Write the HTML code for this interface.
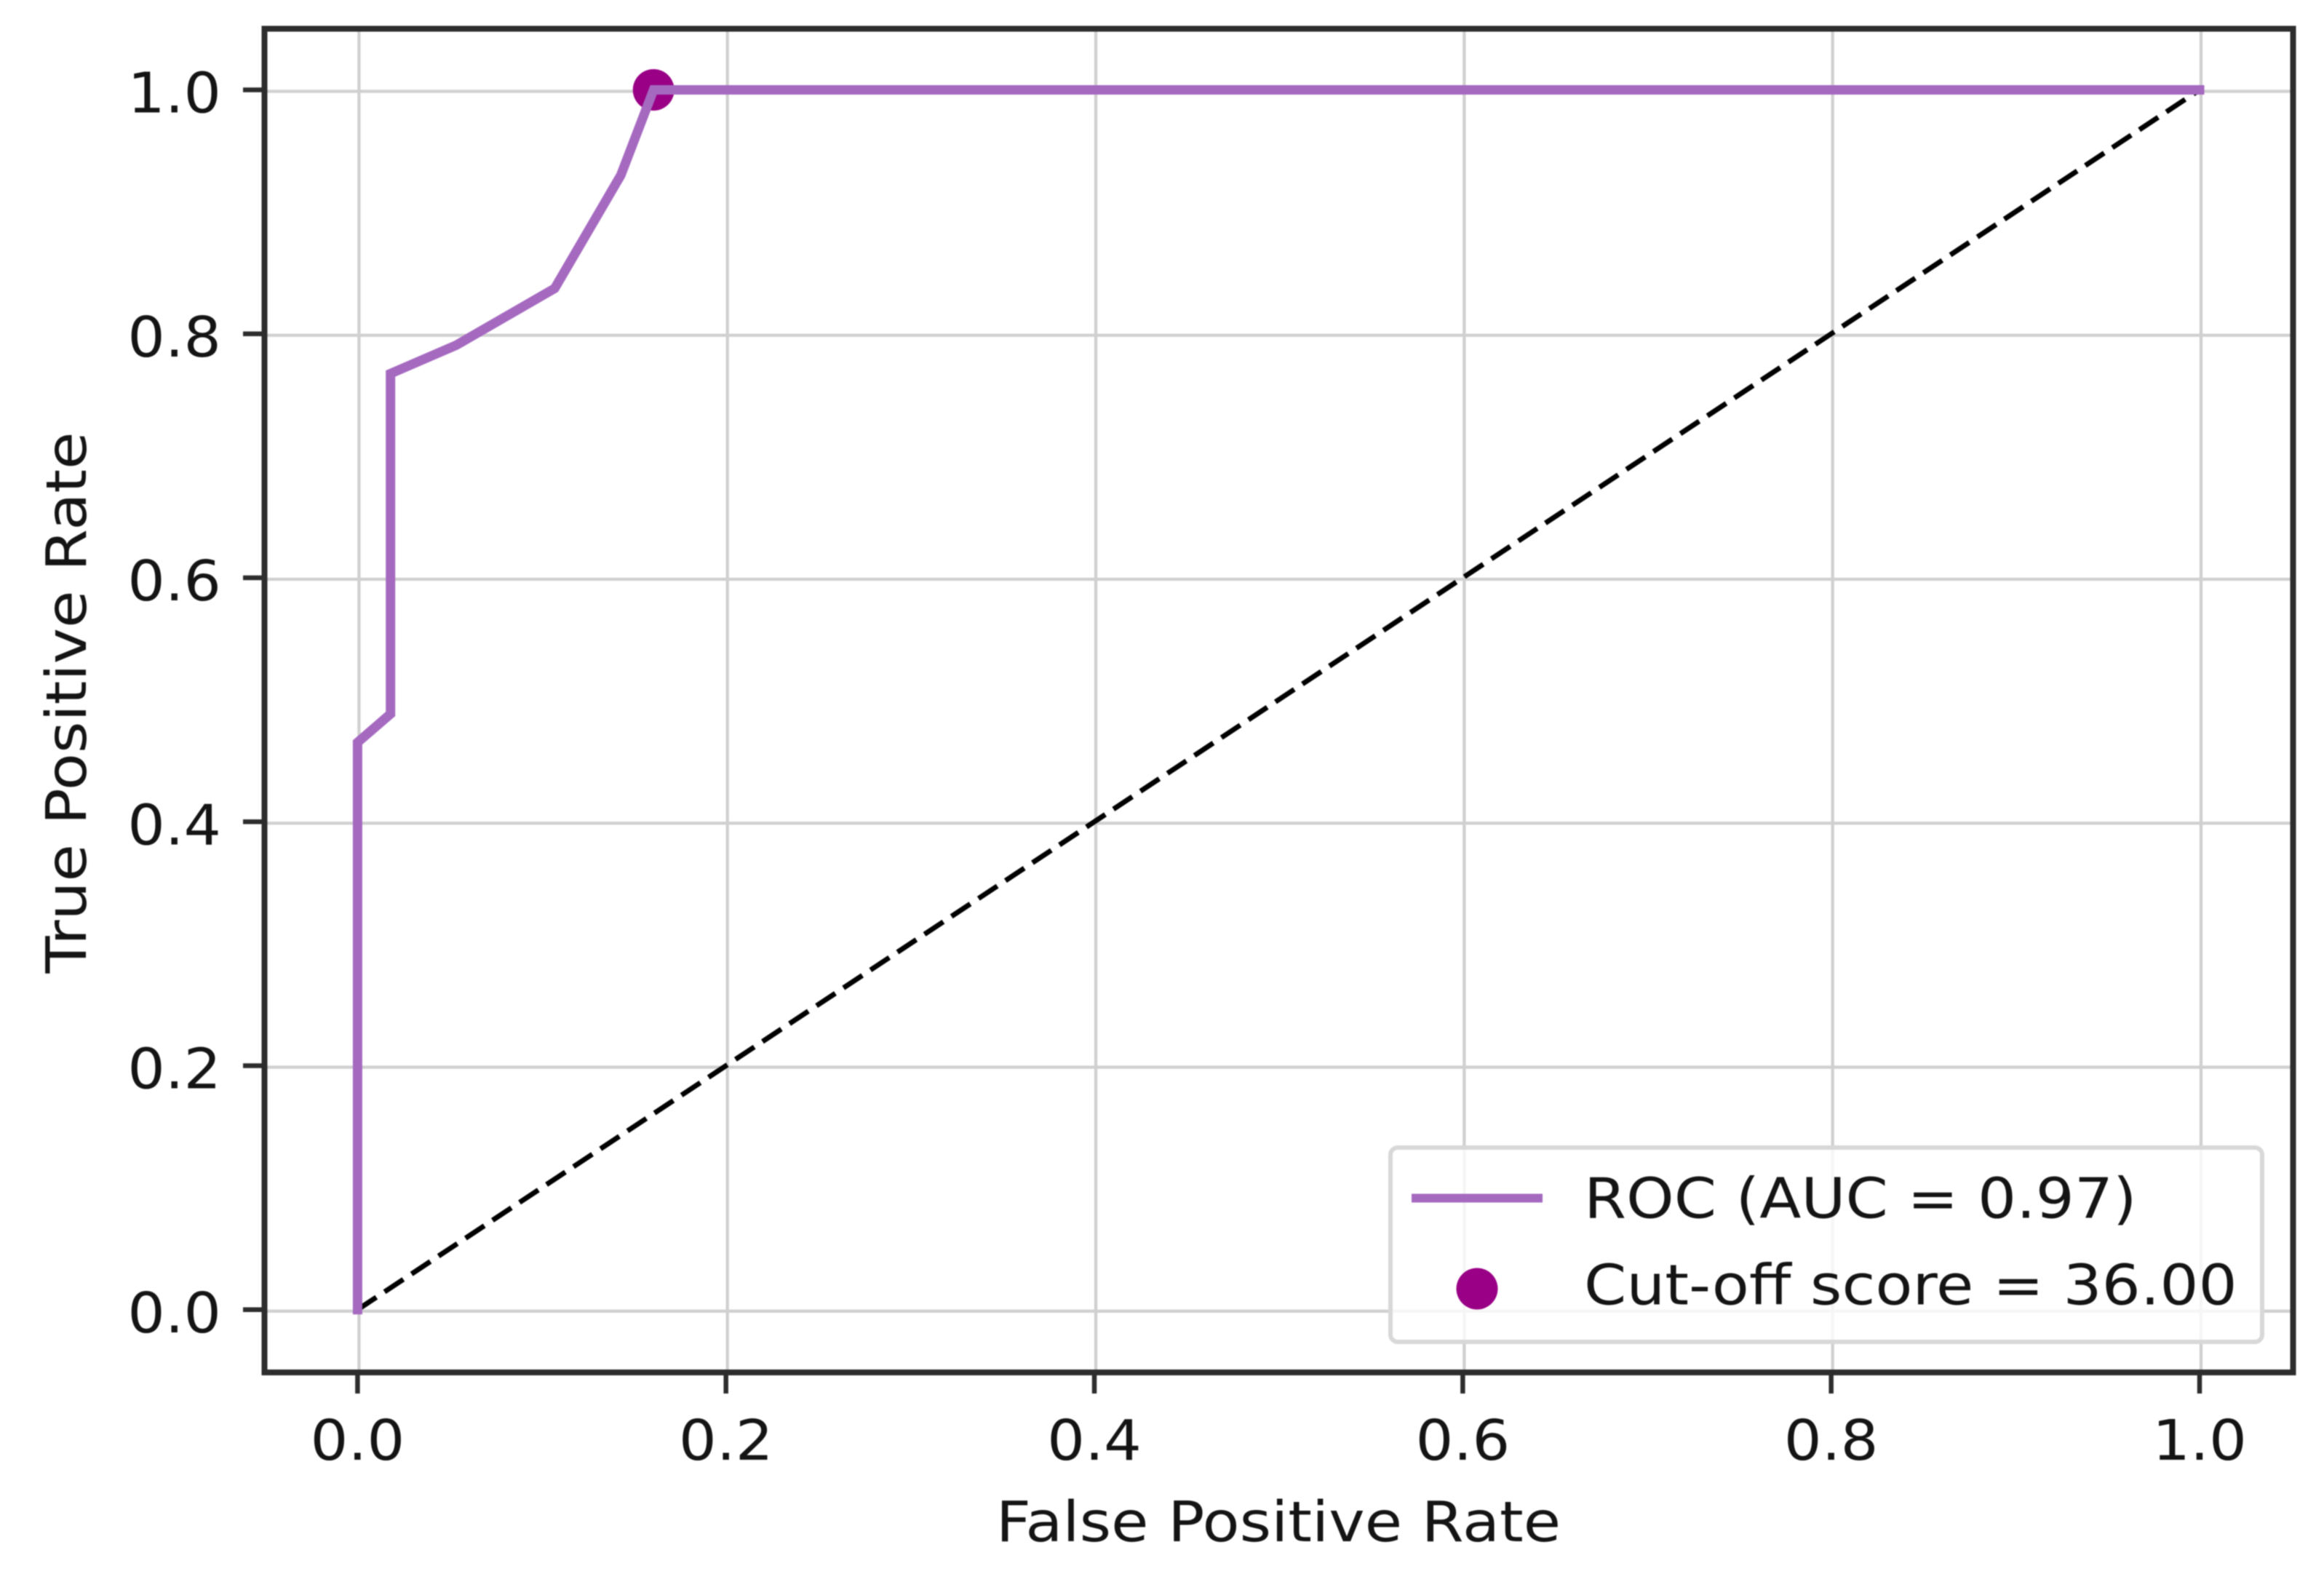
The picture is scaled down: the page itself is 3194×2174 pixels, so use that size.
<!DOCTYPE html>
<html>
<head>
<meta charset="utf-8">
<title>ROC curve</title>
<style>
html,body{margin:0;padding:0;background:#fff;width:3194px;height:2174px;overflow:hidden}
svg{display:block;filter:blur(0.8px)}
text{font-family:"DejaVu Sans","Liberation Sans",sans-serif;fill:#141414;font-size:77px}
</style>
</head>
<body>
<svg id="chart" xmlns="http://www.w3.org/2000/svg" width="3194" height="2174" viewBox="0 0 3194 2174">
  <rect x="0" y="0" width="3194" height="2174" fill="#ffffff"/>
  <g id="grid"></g>
  <g id="series"></g>
  <rect x="363.5" y="39.5" width="2788" height="1846.5" fill="none" stroke="#2d2d2d" stroke-width="8"/>
  <g id="ticks"></g>
  <text text-anchor="middle" transform="translate(1757 2118) scale(1.085 1)">False Positive Rate</text>
  <text text-anchor="middle" transform="translate(118 965.5) rotate(-90) scale(1.085 1)">True Positive Rate</text>
  <g>
    <rect x="1911" y="1577" width="1198" height="267" rx="10" ry="10" fill="#ffffff" fill-opacity="0.8" stroke="#d8d8d8" stroke-width="6"/>
    <line x1="1940" y1="1646.5" x2="2120" y2="1646.5" stroke="#a569c0" stroke-width="12"/>
    <circle cx="2030" cy="1771" r="28.5" fill="#990085"/>
    <text transform="translate(2177 1673.5) scale(1.085 1)">ROC (AUC = 0.97)</text>
    <text transform="translate(2177 1792.5) scale(1.085 1)">Cut-off score = 36.00</text>
  </g>
</svg>
<script>
var fprValues = [0, 0, 0.0179, 0.0179, 0.0536, 0.107, 0.1429, 0.1607, 1];
var tprValues = [0, 0.4651, 0.4884, 0.7674, 0.7907, 0.8372, 0.93, 1, 1];
var chanceX = [0, 1];
var chanceY = [0, 1];
var cutoffFpr = [0.1607];
var cutoffTpr = [1];
var xTickValues = [0, 0.2, 0.4, 0.6, 0.8, 1];
var yTickValues = [0, 0.2, 0.4, 0.6, 0.8, 1];
var xTickLabels = ['0.0', '0.2', '0.4', '0.6', '0.8', '1.0'];
var yTickLabels = ['0.0', '0.2', '0.4', '0.6', '0.8', '1.0'];

var NS = 'http://www.w3.org/2000/svg';
function xScale(v) { return 491.4 + v * 2531.6; }
function yScale(v) { return 1799.8 - v * 1676.3; }
function make(tag, parent, attrs) {
  var el = document.createElementNS(NS, tag);
  for (var k in attrs) { el.setAttribute(k, attrs[k]); }
  parent.appendChild(el);
  return el;
}
function pathFrom(xs, ys) {
  return xs.map(function (x, i) {
    return (i ? 'L' : 'M') + xScale(x).toFixed(1) + ' ' + yScale(ys[i]).toFixed(1);
  }).join(' ');
}
var gridG = document.getElementById('grid');
var seriesG = document.getElementById('series');
var ticksG = document.getElementById('ticks');

xTickValues.forEach(function (v, i) {
  var x = xScale(v);
  var g = make('line', gridG, { x1: x + 2, x2: x + 2, y1: 39, y2: 1886, stroke: '#d0d0d0', 'stroke-width': 4.3 });
  
  
  var t = make('line', ticksG, { x1: x, x2: x, y1: 1886, y2: 1915, stroke: '#2d2d2d', 'stroke-width': 6.5 });
  
  
  var l = make('text', ticksG, { 'text-anchor': 'middle', transform: 'translate(' + x + ' 2006) scale(1.06 1)' });
  l.textContent = xTickLabels[i];
  
  
});

yTickValues.forEach(function (v, i) {
  var y = yScale(v);
  var g = make('line', gridG, { x1: 363, x2: 3152, y1: y + 2, y2: y + 2, stroke: '#d0d0d0', 'stroke-width': 4.3 });
  
  
  var t = make('line', ticksG, { x1: 334, x2: 363, y1: y, y2: y, stroke: '#2d2d2d', 'stroke-width': 6.5 });
  
  
  var l = make('text', ticksG, { 'text-anchor': 'end', transform: 'translate(304 ' + (y + 31) + ') scale(1.05 1)' });
  l.textContent = yTickLabels[i];
  
  
});

var chance = make('path', seriesG, { d: pathFrom(chanceX, chanceY), fill: 'none', stroke: '#000000', 'stroke-width': 7, 'stroke-dasharray': '31 13.5' });



cutoffFpr.forEach(function (v, i) {
  var c = make('circle', seriesG, { cx: xScale(v), cy: yScale(cutoffTpr[i]), r: 28.5, fill: '#990085' });
  
  
});

var roc = make('path', seriesG, { d: pathFrom(fprValues, tprValues), fill: 'none', stroke: '#a569c0', 'stroke-width': 13, 'stroke-linecap': 'square', 'stroke-linejoin': 'miter' });


</script>
</body>
</html>
